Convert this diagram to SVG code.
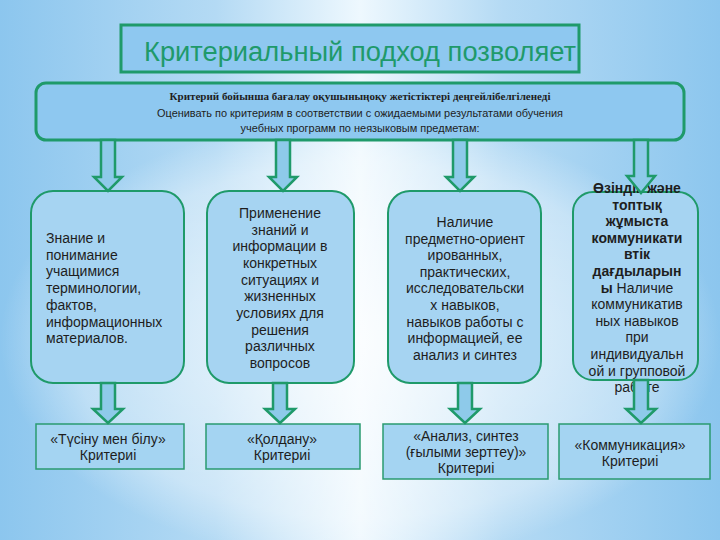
<svg xmlns="http://www.w3.org/2000/svg" width="720" height="540" viewBox="0 0 720 540">
<defs>
<linearGradient id="bgH" x1="0" y1="0" x2="1" y2="0">
<stop offset="0" stop-color="#8cc6ee"/>
<stop offset="0.3" stop-color="#b4daf4"/>
<stop offset="0.5" stop-color="#eef8fe"/>
<stop offset="0.7" stop-color="#b4daf4"/>
<stop offset="1" stop-color="#8cc6ee"/>
</linearGradient>
<radialGradient id="bgE" cx="360" cy="340" r="360" gradientUnits="userSpaceOnUse" gradientTransform="translate(0 340) scale(1 0.62) translate(0 -340)">
<stop offset="0" stop-color="#ffffff" stop-opacity="0.75"/>
<stop offset="0.8" stop-color="#ffffff" stop-opacity="0.35"/>
<stop offset="1" stop-color="#ffffff" stop-opacity="0"/>
</radialGradient>
<style>
.box{fill:#a6d4f2;stroke:#1f9a6a;stroke-width:2}
.hdr{fill:#8ec8f0;stroke:#1f9a6a;stroke-width:3}
.crit{fill:#a4d4f2;stroke:#2a9a70;stroke-width:1.5}
.arr{fill:#8ecaea;stroke:#1f9a6a;stroke-width:2.5;stroke-linejoin:miter}
.t{font-family:"Liberation Sans",Arial,sans-serif;font-size:14px;fill:#1e1e1e}
.c{text-anchor:middle}
.b{font-weight:bold}
</style>
</defs>
<rect width="720" height="540" fill="url(#bgH)"/>
<rect width="720" height="540" fill="url(#bgE)"/>

<g id="title">
<rect x="121" y="25" width="458" height="47" class="hdr" stroke-width="2"/>
<text x="360" y="61" text-anchor="middle" font-family="'Liberation Sans',Arial,sans-serif" font-size="27" fill="#1f9a6b" textLength="432" lengthAdjust="spacingAndGlyphs">Критериальный подход позволяет</text>
</g>

<g id="header">
<rect x="36" y="83" width="648" height="57" rx="10" class="hdr"/>
<text x="360" y="100" text-anchor="middle" font-family="'Liberation Serif','Times New Roman',serif" font-size="10" font-weight="bold" fill="#1e1e1e" textLength="381" lengthAdjust="spacingAndGlyphs">Критерий бойынша бағалау оқушыныңоқу жетістіктері деңгейлібелгіленеді</text>
<text x="360" y="117" text-anchor="middle" font-family="'Liberation Sans',Arial,sans-serif" font-size="11" fill="#1e1e1e" textLength="406" lengthAdjust="spacingAndGlyphs">Оценивать по критериям в соответствии с ожидаемыми результатами обучения</text>
<text x="360" y="132" text-anchor="middle" font-family="'Liberation Sans',Arial,sans-serif" font-size="11" fill="#1e1e1e" textLength="239" lengthAdjust="spacingAndGlyphs">учебных программ по неязыковым предметам:</text>
</g>

<g id="box1">
<rect x="31" y="191" width="153" height="192" rx="22" class="box"/>
<text class="t" x="46" y="243">Знание и</text>
<text class="t" x="46" y="259.7">понимание</text>
<text class="t" x="46" y="276.4">учащимися</text>
<text class="t" x="46" y="293.1">терминологии,</text>
<text class="t" x="46" y="309.8">фактов,</text>
<text class="t" x="46" y="326.5">информационных</text>
<text class="t" x="46" y="343.2">материалов.</text>
</g>

<g id="box2">
<rect x="207" y="191" width="147" height="192" rx="22" class="box"/>
<text class="t c" x="280" y="218">Применение</text>
<text class="t c" x="280" y="234.7">знаний и</text>
<text class="t c" x="280" y="251.3">информации в</text>
<text class="t c" x="280" y="268">конкретных</text>
<text class="t c" x="280" y="284.7">ситуациях и</text>
<text class="t c" x="280" y="301.3">жизненных</text>
<text class="t c" x="280" y="318">условиях для</text>
<text class="t c" x="280" y="334.7">решения</text>
<text class="t c" x="280" y="351.3">различных</text>
<text class="t c" x="280" y="368">вопросов</text>
</g>

<g id="box3">
<rect x="388" y="191" width="153" height="192" rx="22" class="box"/>
<text class="t c" x="465" y="227">Наличие</text>
<text class="t c" x="465" y="243.6">предметно-ориент</text>
<text class="t c" x="465" y="260.2">ированных,</text>
<text class="t c" x="465" y="276.8">практических,</text>
<text class="t c" x="465" y="293.4">исследовательски</text>
<text class="t c" x="465" y="310">х навыков,</text>
<text class="t c" x="465" y="326.6">навыков работы с</text>
<text class="t c" x="465" y="343.2">информацией, ее</text>
<text class="t c" x="465" y="359.8">анализ и синтез</text>
</g>

<g id="box4">
<rect x="573" y="192" width="125" height="188" rx="20" class="box"/>
<text class="t c b" x="637" y="193">Өзіндік және</text>
<text class="t c b" x="637" y="209.6">топтық</text>
<text class="t c b" x="637" y="226.2">жұмыста</text>
<text class="t c b" x="637" y="242.8">коммуникати</text>
<text class="t c b" x="637" y="259.4">втік</text>
<text class="t c b" x="637" y="276">дағдыларын</text>
<text class="t c" x="637" y="292.6"><tspan class="b">ы</tspan> Наличие</text>
<text class="t c" x="637" y="309.2">коммуникатив</text>
<text class="t c" x="637" y="325.8">ных навыков</text>
<text class="t c" x="637" y="342.4">при</text>
<text class="t c" x="637" y="359">индивидуальн</text>
<text class="t c" x="637" y="375.6">ой и групповой</text>
<text class="t c" x="637" y="392.2">работе</text>
</g>

<g id="crit1">
<rect x="36" y="424" width="148" height="45" class="crit"/>
<text class="t c" x="108" y="444">«Түсіну мен білу»</text>
<text class="t c" x="108" y="460">Критериі</text>
</g>
<g id="crit2">
<rect x="206" y="424" width="154" height="45" class="crit"/>
<text class="t c" x="282" y="444">«Қолдану»</text>
<text class="t c" x="282" y="460">Критериі</text>
</g>
<g id="crit3">
<rect x="383" y="424" width="165" height="55" class="crit"/>
<text class="t c" x="466" y="441">«Анализ, синтез</text>
<text class="t c" x="466" y="457">(ғылыми зерттеу)»</text>
<text class="t c" x="466" y="473">Критериі</text>
</g>
<g id="crit4">
<rect x="559" y="424" width="151" height="55" class="crit"/>
<text class="t c" x="630" y="450">«Коммуникация»</text>
<text class="t c" x="630" y="466">Критериі</text>
</g>

<g id="connectors">
<path class="arr" d="M101 140 V177 H94 L108 191 L122 177 H115 V140 Z"/>
<path class="arr" d="M276 140 V177 H269 L283 191 L297 177 H290 V140 Z"/>
<path class="arr" d="M453 140 V177 H446 L460 191 L474 177 H467 V140 Z"/>
<path class="arr" d="M634 140 V176 H627 L641 193 L655 176 H648 V140 Z"/>
<path class="arr" d="M101 383 V409 H93 L108 423 L123 409 H115 V383 Z"/>
<path class="arr" d="M273 383 V409 H265 L280 423 L295 409 H287 V383 Z"/>
<path class="arr" d="M458 383 V409 H450 L465 423 L480 409 H472 V383 Z"/>
<path class="arr" d="M634 380 V409 H626 L641 423 L656 409 H648 V380 Z"/>
</g>
</svg>
